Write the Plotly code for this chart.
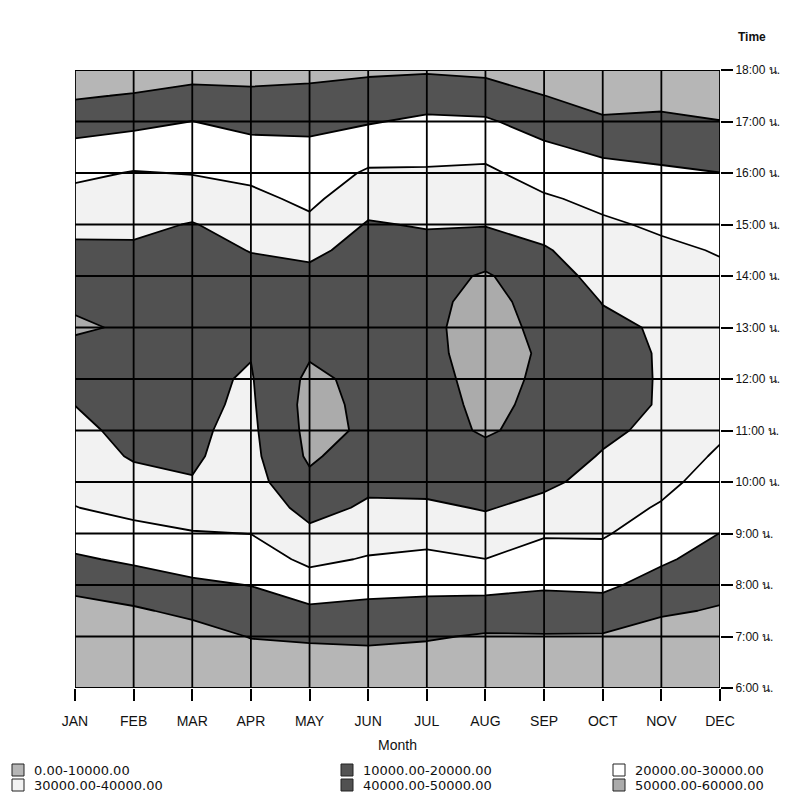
import plotly.graph_objects as go
import numpy as np

months = ["JAN", "FEB", "MAR", "APR", "MAY", "JUN", "JUL", "AUG", "SEP", "OCT", "NOV", "DEC"]
hours = [6.0 + 0.5 * k for k in range(25)]          # 6:00 ... 18:00, every 30 min
hour_ticks = list(range(6, 19))
hour_labels = [f"{h}:00 น." for h in hour_ticks]

# Illuminance-like values, one list per month (6:00 -> 18:00, 30-min steps)
jan = [800, 2000, 3800, 6400, 12600, 18800, 24300, 29800, 32400, 34900, 37500, 40100, 42200,
       44200, 52500, 47300, 45000, 41700, 37700, 33100, 28000, 22200, 15800, 9000, 3000]
feb = [1000, 3000, 5500, 8800, 15300, 21500, 27500, 32300, 36400, 41000, 43000, 45000, 46500,
       47500, 47500, 47000, 45000, 41500, 37800, 34100, 30500, 24300, 17500, 10700, 4000]
mar = [1500, 4000, 6000, 12200, 18400, 24000, 29500, 34200, 39750, 40700, 41000, 41500, 41400,
       44000, 45500, 46000, 45500, 44000, 40500, 35000, 29600, 24800, 20100, 13200, 6000]
apr = [2000, 5500, 10400, 15300, 20200, 25300, 30100, 34000, 36500, 37500, 38200, 38800, 39400,
       40300, 43000, 44500, 43500, 39600, 35900, 32200, 27900, 22600, 17300, 12200, 6000]
may = [2500, 6000, 11400, 18200, 25400, 32100, 38000, 43100, 47800, 51500, 52500, 53000, 52000,
       49000, 47000, 45000, 42700, 37600, 32000, 28000, 24800, 21600, 17700, 12800, 7000]
jun = [3000, 6500, 11900, 17400, 23200, 29300, 34100, 38700, 42000, 44700, 48800, 48000, 47500,
       47500, 47500, 47000, 46000, 44000, 40800, 36000, 31200, 25300, 19300, 14000, 8500]
jul = [2500, 6000, 10900, 16800, 22500, 28000, 33200, 38200, 43500, 45500, 46500, 47500, 48000,
       48500, 48500, 48000, 46500, 43500, 39200, 35200, 31100, 26500, 21700, 15500, 9000]
aug = [1500, 5000, 9100, 15800, 22800, 29900, 35600, 40700, 44000, 47300, 51000, 51500, 52000,
       52500, 53000, 52500, 51000, 45500, 39500, 35600, 31700, 26900, 21200, 14500, 8000]
sep = [1500, 5000, 9400, 15500, 21200, 25900, 30900, 37000, 42000, 45000, 47000, 48500, 49000,
       49300, 48200, 47000, 44300, 41000, 36000, 31100, 26200, 21400, 15900, 10100, 4000]
oct_ = [1500, 5000, 9200, 15900, 21800, 26700, 30900, 33700, 36500, 39300, 42000, 43500, 44000,
        43500, 42000, 39700, 36900, 34200, 31400, 27700, 23100, 17800, 11200, 6500, 2500]
nov = [1000, 3500, 5900, 11300, 16500, 21300, 25200, 29100, 32500, 35000, 37600, 39300, 39300,
       39300, 39000, 37000, 34500, 31800, 28600, 25000, 21400, 16900, 11900, 7000, 2500]
dec = [500, 3000, 5500, 9200, 12800, 16400, 19900, 22900, 25800, 28700, 31500, 33500, 34500,
       34500, 34000, 33000, 31700, 29400, 26300, 23200, 20100, 15100, 10200, 6000, 2000]

levels = [0, 10000, 20000, 30000, 40000, 50000, 60000]
band_colors = ["#b6b6b6", "#535353", "#ffffff", "#f2f2f2", "#515151", "#ababab"]
band_labels = [f"{levels[i]:.2f}-{levels[i+1]:.2f}" for i in range(6)]

z = np.array([jan, feb, mar, apr, may, jun, jul, aug, sep, oct_, nov, dec]).T
x = list(range(len(months)))

# stepped colour scale, one step per band
cs = []
edges = [0, 0.1, 0.3, 0.5, 0.7, 0.9, 1.0]
for i, c in enumerate(band_colors):
    cs.append([edges[i], c])
    cs.append([edges[i + 1], c])

fig = go.Figure()
fig.add_trace(go.Contour(
    x=x, y=hours, z=z,
    colorscale=cs, showscale=False,
    contours=dict(start=levels[1], end=levels[5], size=10000, coloring="fill", showlines=True),
    line=dict(color="black", width=1.8, smoothing=0),
    hoverinfo="skip",
))

# grid lines drawn above the filled contours
for m in x:
    fig.add_shape(type="line", xref="x", yref="y", x0=m, x1=m, y0=hour_ticks[0], y1=hour_ticks[-1],
                  line=dict(color="black", width=1.8), layer="above")
for h in hour_ticks:
    fig.add_shape(type="line", xref="x", yref="y", x0=x[0], x1=x[-1], y0=h, y1=h,
                  line=dict(color="black", width=1.8), layer="above")

# the page body adds an 8px offset, so the figure is slightly smaller than the window
OFF = 8
W, H = 790 - OFF, 796 - OFF
L, T = 75 - OFF, 70 - OFF           # plot area in screen pixels: x 75..720, y 70..688
pw, ph = 645, 618
R, B = W - L - pw, H - T - ph


def px(xs):   # screen x -> paper
    return (xs - OFF - L) / pw


def py(ys):   # screen y -> paper
    return (T + ph - (ys - OFF)) / ph


# legend built from band labels / colours
col_icon = [12, 341, 613]
row_y = [770, 785]
for i, (lab, col) in enumerate(zip(band_labels, band_colors)):
    r, c = divmod(i, 3)
    cy = row_y[r]
    fig.add_shape(type="rect", xref="paper", yref="paper",
                  x0=px(col_icon[c]), x1=px(col_icon[c] + 12),
                  y0=py(cy + 6), y1=py(cy - 6),
                  fillcolor=col, line=dict(color="#222222", width=1))
    fig.add_annotation(xref="paper", yref="paper", x=px(col_icon[c] + 21), y=py(cy),
                       text=lab, showarrow=False, xanchor="left", yanchor="middle",
                       borderpad=0,
                       font=dict(size=13, color="#111111", family="DejaVu Sans, sans-serif"))

fig.add_annotation(xref="paper", yref="paper", x=px(752), y=py(37), text="<b>Time</b>",
                   showarrow=False, xanchor="center", yanchor="middle",
                   font=dict(size=12, color="#111111"))

fig.update_layout(
    width=W, height=H,
    margin=dict(l=L, r=R, t=T, b=B, autoexpand=False),
    paper_bgcolor="white", plot_bgcolor="white",
    font=dict(family="Liberation Sans, Arial, DejaVu Sans, sans-serif", color="#111111"),
    showlegend=False,
    xaxis=dict(range=[x[0], x[-1]], tickvals=x, ticktext=months, ticks="outside", ticklen=12,
               tickwidth=1.5, tickcolor="black", showgrid=False, zeroline=False, showline=False,
               automargin=False,
               tickfont=dict(size=14), ticklabelstandoff=8,
               title=dict(text="Month", font=dict(size=14), standoff=12)),
    yaxis=dict(range=[hour_ticks[0], hour_ticks[-1]], tickvals=hour_ticks, ticktext=hour_labels,
               side="right", ticks="outside", ticklen=12, tickwidth=1.5, tickcolor="black",
               automargin=False,
               showgrid=False, zeroline=False, showline=False, tickfont=dict(size=12)),
)

fig.write_html("out.html")
